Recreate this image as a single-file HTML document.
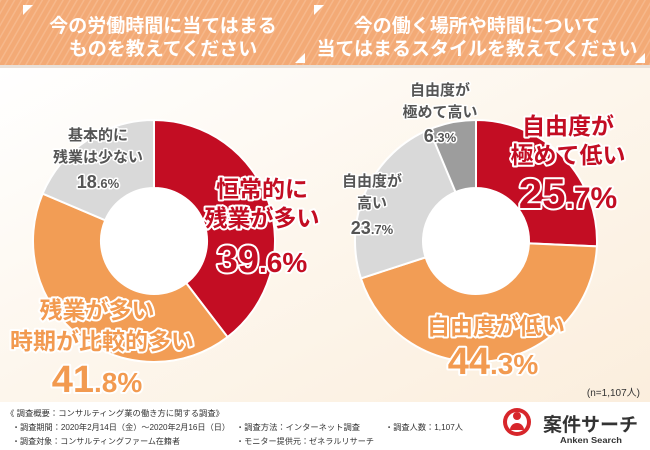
<!DOCTYPE html>
<html><head><meta charset="utf-8">
<style>
html,body{margin:0;padding:0;}
body{width:650px;height:450px;overflow:hidden;position:relative;background:#fff;font-family:"Liberation Sans","Noto Sans CJK JP",sans-serif;}
svg{position:absolute;left:0;top:0;}
</style></head><body>
<svg width="650" height="450" viewBox="0 0 650 450" xmlns="http://www.w3.org/2000/svg" font-family="Liberation Sans, Noto Sans CJK JP, sans-serif">
<defs>
<linearGradient id="bg" x1="0" y1="0" x2="1" y2="1">
<stop offset="0" stop-color="#fff"/><stop offset="0.5" stop-color="#fdf6ec"/><stop offset="1" stop-color="#fbeedd"/>
</linearGradient>
<pattern id="st" width="6" height="6" patternUnits="userSpaceOnUse" patternTransform="rotate(30)">
<rect width="6" height="6" fill="#f3aa76"/><rect width="1.5" height="6" fill="#f6b88b"/>
</pattern>
</defs>
<rect x="0" y="65" width="650" height="338" fill="url(#bg)"/>
<rect x="0" y="0" width="650" height="65" fill="url(#st)"/>
<rect x="0" y="65" width="650" height="3" fill="#e9e0d8"/>
<polygon points="23,5 33,5 23,15" fill="#fff"/>
<polygon points="295,63 305,53 305,63" fill="#fff"/>
<polygon points="314,5 324,5 314,15" fill="#fff"/>
<polygon points="635,63 645,53 645,63" fill="#fff"/>
<g fill="#fff" font-weight="bold" font-size="19" text-anchor="middle">
<text x="163" y="32">今の労働時間に当てはまる</text>
<text x="163" y="55">ものを教えてください</text>
<text x="477" y="32">今の働く場所や時間について</text>
<text x="477" y="55">当てはまるスタイルを教えてください</text>
</g>
<g id="d1"></g><g id="d2"></g>
<g font-weight="bold" text-anchor="middle" paint-order="stroke" stroke="#fff" stroke-linejoin="round">
<g fill="#555" font-size="15" stroke-width="3">
<text x="98" y="140">基本的に</text>
<text x="98" y="162">残業は少ない</text>
<text x="98" y="188" font-size="18">18<tspan font-size="13">.6%</tspan></text>
<text x="440" y="95">自由度が</text>
<text x="440" y="117">極めて高い</text>
<text x="440" y="142" font-size="18">6<tspan font-size="13">.3%</tspan></text>
<text x="372" y="186">自由度が</text>
<text x="372" y="208">高い</text>
<text x="372" y="234" font-size="18">23<tspan font-size="13">.7%</tspan></text>
</g>
<g fill="#c30d23" font-size="23" stroke-width="4">
<text x="262" y="197">恒常的に</text>
<text x="262" y="226">残業が多い</text>
<text x="262" y="272" font-size="38">39<tspan font-size="28">.6%</tspan></text>
<text x="568" y="134">自由度が</text>
<text x="568" y="163">極めて低い</text>
<text x="568" y="208" font-size="42">25<tspan font-size="30">.7%</tspan></text>
</g>
<g fill="#f29a50" font-size="23" stroke-width="4">
<text x="97" y="318">残業が多い</text>
<text x="102" y="349">時期が比較的多い</text>
<text x="97" y="392" font-size="38">41<tspan font-size="28">.8%</tspan></text>
<text x="496" y="334">自由度が低い</text>
<text x="493" y="374" font-size="38">44<tspan font-size="28">.3%</tspan></text>
</g>
</g>
<rect x="0" y="402" width="650" height="48" fill="#fff"/>
<text x="640" y="396" font-size="10" fill="#333" text-anchor="end">(n=1,107人)</text>
<g font-size="8" fill="#333">
<text x="6" y="416" textLength="218" lengthAdjust="spacingAndGlyphs">《 調査概要：コンサルティング業の働き方に関する調査》</text>
<text x="12" y="430" textLength="218" lengthAdjust="spacingAndGlyphs">・調査期間：2020年2月14日（金）～2020年2月16日（日）</text>
<text x="12" y="444" textLength="168" lengthAdjust="spacingAndGlyphs">・調査対象：コンサルティングファーム在籍者</text>
<text x="236" y="430" textLength="124" lengthAdjust="spacingAndGlyphs">・調査方法：インターネット調査</text>
<text x="236" y="444" textLength="138" lengthAdjust="spacingAndGlyphs">・モニター提供元：ゼネラルリサーチ</text>
<text x="385" y="430" textLength="78" lengthAdjust="spacingAndGlyphs">・調査人数：1,107人</text>
</g>
<circle cx="517" cy="422" r="14" fill="#d7262b"/>
<circle cx="517" cy="422" r="10" fill="#fff"/>
<circle cx="517" cy="416" r="4" fill="#d7262b"/>
<path d="M510 430 a7 7 0 0 1 14 0z" fill="#d7262b"/>
<text x="543" y="431" font-size="19" font-weight="bold" fill="#333" textLength="95" lengthAdjust="spacingAndGlyphs">案件サーチ</text>
<text x="560" y="443" font-size="8.5" font-weight="bold" fill="#333" textLength="62" lengthAdjust="spacingAndGlyphs">Anken Search</text>
</svg>
<script>
function donut(id,cx,cy,R,r,vals,cols){
 var g=document.getElementById(id),a=0,s='';
 for(var i=0;i<vals.length;i++){
  var a0=a,a1=a+vals[i]/100*2*Math.PI;a=a1;
  var p=function(rr,t){return [cx+rr*Math.sin(t),cy-rr*Math.cos(t)];};
  var o0=p(R,a0),o1=p(R,a1),i1=p(r,a1),i0=p(r,a0),lg=(a1-a0)>Math.PI?1:0;
  s+='<path d="M'+o0+' A'+R+' '+R+' 0 '+lg+' 1 '+o1+' L'+i1+' A'+r+' '+r+' 0 '+lg+' 0 '+i0+'Z" fill="'+cols[i]+'" stroke="#fff" stroke-width="2"/>';
 }
 s+='<circle cx="'+cx+'" cy="'+cy+'" r="'+r+'" fill="#fff"/>';
 g.innerHTML=s;
}
donut('d1',154,241,121,53,[39.6,41.8,18.6],['#c30d23','#f29d55','#d9d9d9']);
donut('d2',476,241,121,53,[25.7,44.3,23.7,6.3],['#c30d23','#f29d55','#d9d9d9','#9d9d9d']);
</script>
</body></html>
